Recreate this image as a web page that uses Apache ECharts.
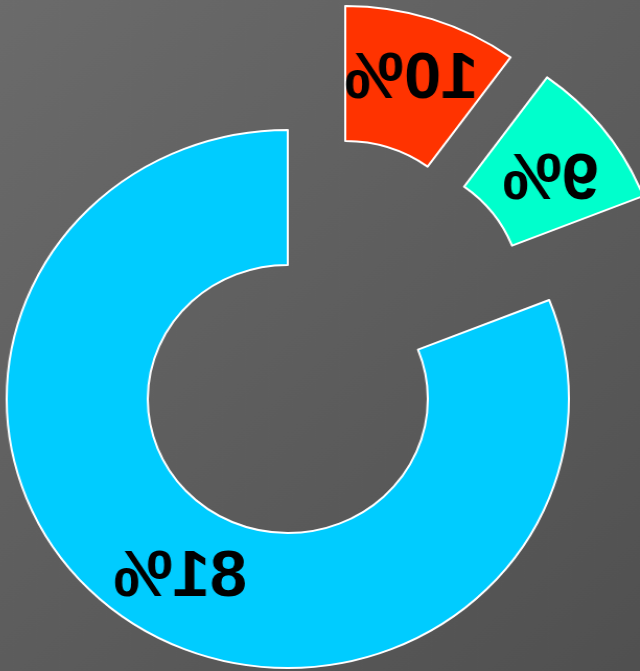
<!DOCTYPE html>
<html>
<head>
<meta charset="utf-8">
<script src="https://cdn.jsdelivr.net/npm/echarts@6/dist/echarts.min.js"></script>
<style>
  html, body { margin: 0; padding: 0; width: 640px; height: 671px; overflow: hidden; background: #5e5e5e; }
  /* the reference is drawn mirrored and a little wider than tall */
  #chart { position: absolute; left: 0; top: 0; width: 613px; height: 671px;
           transform-origin: 0 0; transform: translateX(640px) scaleX(-1.045); }
</style>
</head>
<body>
<div id="chart"></div>
<script>
// data
const categories = ["A", "B", "C"];
const values = [81, 9, 10];
const colors = ["#00CCFF", "#00FFCC", "#FF3300"];
// each slice has its own centre (the two small ones are pulled out)
const centers = [[337, 399], [247, 295], [282, 275]];
// small label nudges (chart is mirrored, so x goes the other way)
const labelOffsets = [[-12, 10], [0, 12], [0, 0]];

const myChart = echarts.init(document.getElementById("chart"));

const series = centers.map(function (c, s) {
  return {
    type: "pie",
    center: c,
    radius: [134, 269],
    startAngle: 90,
    clockwise: true,
    silent: true,
    avoidLabelOverlap: false,
    label: {
      show: true,
      position: "inside",
      formatter: "{d}%",
      color: "#000",
      fontSize: 64,
      fontWeight: "bold",
      fontFamily: "Liberation Sans, Arial, sans-serif",
      offset: labelOffsets[s],
    },
    labelLine: { show: false },
    emphasis: { disabled: true },
    data: categories.map(function (name, i) {
      const on = i === s;
      return {
        name: name,
        value: values[i],
        itemStyle: on
          ? { color: colors[i], borderColor: "#fff", borderWidth: 2 }
          : { color: "transparent", borderWidth: 0 },
        label: { show: on },
      };
    }),
  };
});

const option = {
  animation: false,
  backgroundColor: {
    type: "linear",
    x: 1, y: 0, x2: 0, y2: 1,
    colorStops: [
      { offset: 0, color: "#6b6b6b" },
      { offset: 1, color: "#505050" },
    ],
  },
  series: series,
};

myChart.setOption(option);
</script>
</body>
</html>
